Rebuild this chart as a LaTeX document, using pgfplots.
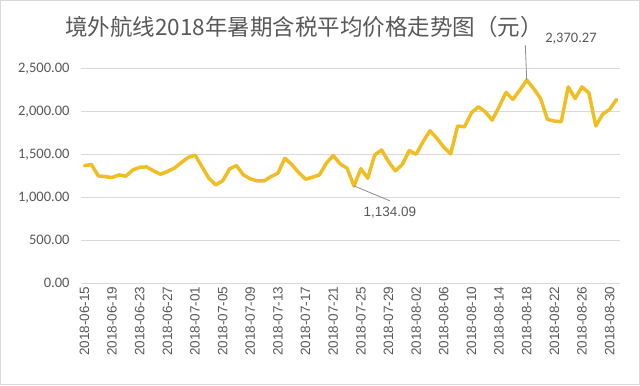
\documentclass[border=0pt]{standalone}
\usepackage{fontspec}
\usepackage{pgfplots}
\pgfplotsset{compat=1.18}
\setmainfont{Carlito}
\newfontfamily\cjk{Noto Sans CJK SC}
\newfontfamily\arial{Liberation Sans}
\definecolor{linegold}{RGB}{240,190,35}
\definecolor{txtgray}{RGB}{89,89,89}
\definecolor{gridgray}{RGB}{217,217,217}
\definecolor{leadgray}{RGB}{140,140,140}

\pgfplotstableread{
idx val
0 1370
1 1385
2 1251
3 1243
4 1232
5 1263
6 1248
7 1321
8 1352
9 1356
10 1310
11 1271
12 1302
13 1341
14 1406
15 1466
16 1494
17 1360
18 1224
19 1147
20 1193
21 1333
22 1372
23 1263
24 1217
25 1193
26 1193
27 1243
28 1283
29 1457
30 1385
31 1290
32 1213
33 1236
34 1263
35 1399
36 1490
37 1391
38 1341
39 1134.09
40 1335
41 1224
42 1496
43 1554
44 1418
45 1310
46 1385
47 1546
48 1504
49 1651
50 1779
51 1690
52 1586
53 1508
54 1834
55 1825
56 1988
57 2058
58 2000
59 1903
60 2058
61 2226
62 2145
63 2253
64 2370.27
65 2272
66 2156
67 1911
68 1892
69 1884
70 2291
71 2156
72 2291
73 2221
74 1834
75 1973
76 2028
77 2144
}\pricedata

\begin{document}
\begin{tikzpicture}[x=1bp,y=1bp]
\useasboundingbox (0,0) rectangle (640,385);
\fill[white] (0,0) rectangle (640,385);
\draw[gridgray, line width=1bp] (0.5,0.5) rectangle (639.5,384.5);
\node[text=txtgray, font=\cjk\fontsize{22.5bp}{26bp}\selectfont] at (304,358) {境外航线2018年暑期含税平均价格走势图（元）};
\begin{axis}[
  at={(81bp,102bp)}, anchor=south west,
  scale only axis, width=539bp, height=214bp,
  xmin=-0.5, xmax=77.5, ymin=0, ymax=2500,
  axis line style={draw=none},
  major tick length=0pt,
  clip=false,
  ytick={0,500,...,2500},
  ymajorgrids,
  major grid style={gridgray, line width=1bp},
  yticklabel style={text=txtgray, font=\fontsize{14.5bp}{16bp}\selectfont, xshift=-8bp},
  /pgf/number format/.cd, fixed, fixed zerofill, precision=2, 1000 sep={,}, assume math mode=true,
  /pgfplots/.cd,
  scaled y ticks=false,
  xtick={0,4,...,76},
  xticklabels={2018-06-15,2018-06-19,2018-06-23,2018-06-27,2018-07-01,2018-07-05,2018-07-09,2018-07-13,2018-07-17,2018-07-21,2018-07-25,2018-07-29,2018-08-02,2018-08-06,2018-08-10,2018-08-14,2018-08-18,2018-08-22,2018-08-26,2018-08-30},
  xticklabel style={rotate=90, anchor=east, text=txtgray, font=\arial\fontsize{13.5bp}{15bp}\selectfont},
]
\addplot[linegold, line width=3.5bp, line join=round, line cap=round] table[x=idx, y=val] {\pricedata};
\draw[leadgray, line width=0.8bp] (axis cs:39,1134.09) -- (axis cs:44.2,960);
\node[text=txtgray, font=\arial\fontsize{13.5bp}{15bp}\selectfont] at (axis cs:44.2,821) {1,134.09};
\draw[leadgray, line width=0.8bp] (axis cs:64,2370.27) -- (axis cs:63.8,2776);
\node[text=txtgray, font=\fontsize{14.5bp}{16bp}\selectfont] at (axis cs:70.4,2858) {2,370.27};
\end{axis}
\end{tikzpicture}
\end{document}
